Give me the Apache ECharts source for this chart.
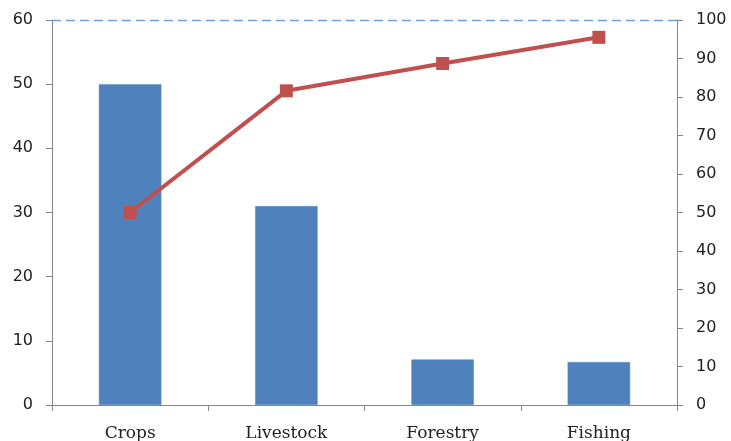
<!DOCTYPE html>
<html>
<head>
<meta charset="utf-8">
<script src="https://cdn.jsdelivr.net/npm/echarts@6/dist/echarts.min.js"></script>
<style>
  html, body { margin: 0; padding: 0; background: #fff; }
  #chart { width: 731px; height: 441px; }
</style>
</head>
<body>
<div id="chart"></div>
<script>
// Sector shares (bars, left axis) and running cumulative share (line, right axis)
const categories = ['Crops', 'Livestock', 'Forestry', 'Fishing'];
const shareValues = [50, 31, 7.1, 6.7];
const cumulativeValues = [50, 81.6, 88.7, 95.5];

const axisGray = '#868686';
const tickFont = { fontFamily: 'DejaVu Sans', fontSize: 16, color: '#222' };

const chart = echarts.init(document.getElementById('chart'), null, { renderer: 'canvas' });

chart.setOption({
  animation: false,
  backgroundColor: '#ffffff',
  grid: {
    left: 52, right: 54, top: 20, bottom: 36,
    containLabel: false,
    outerBoundsMode: 'none'
  },
  xAxis: {
    type: 'category',
    data: categories,
    boundaryGap: true,
    axisLine: { lineStyle: { color: axisGray, width: 1 } },
    axisTick: { show: true, length: 6, lineStyle: { color: axisGray } },
    axisLabel: { margin: 20, fontFamily: 'DejaVu Serif', fontSize: 17, color: '#222' }
  },
  yAxis: [
    {
      type: 'value',
      min: 0, max: 60, interval: 10,
      position: 'left',
      axisLine: { show: true, lineStyle: { color: axisGray } },
      axisTick: { show: true, length: 6, lineStyle: { color: axisGray } },
      splitLine: { show: false },
      axisLabel: Object.assign({ margin: 19 }, tickFont)
    },
    {
      type: 'value',
      min: 0, max: 100, interval: 10,
      position: 'right',
      axisLine: { show: true, lineStyle: { color: axisGray } },
      axisTick: { show: true, length: 6, lineStyle: { color: axisGray } },
      splitLine: { show: false },
      axisLabel: Object.assign({ margin: 19 }, tickFont)
    }
  ],
  series: [
    {
      type: 'bar',
      yAxisIndex: 0,
      data: shareValues,
      barWidth: '40%',
      itemStyle: { color: '#4F81BD', borderColor: '#5b8cc6', borderWidth: 0.5 },
      markLine: {
        silent: true,
        symbol: 'none',
        label: { show: false },
        lineStyle: { color: '#6f9fd8', type: [9, 5], width: 1.3 },
        data: [{ yAxis: 60 }]
      }
    },
    {
      type: 'line',
      yAxisIndex: 1,
      data: cumulativeValues,
      symbol: 'rect',
      symbolSize: 13,
      lineStyle: { color: '#C0504D', width: 4 },
      itemStyle: { color: '#C0504D' },
      z: 5
    }
  ]
});
</script>
</body>
</html>
